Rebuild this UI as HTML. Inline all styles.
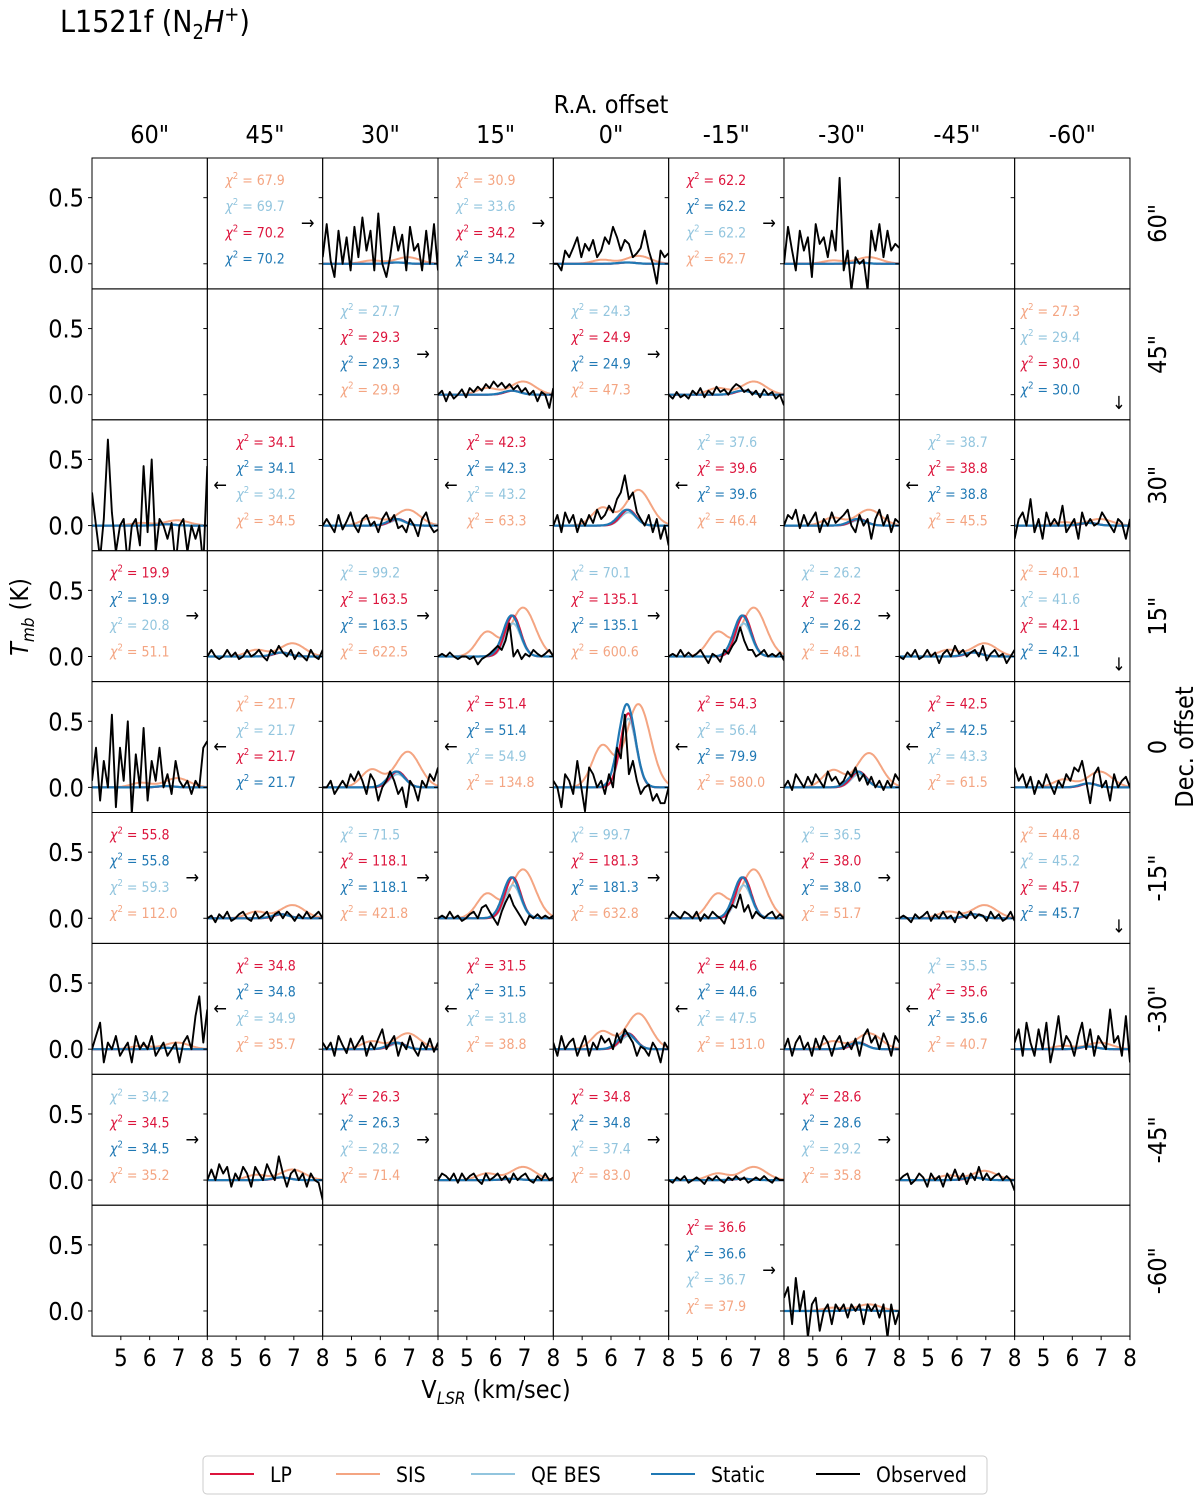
<!DOCTYPE html>
<html><head><meta charset="utf-8">
<style>
html,body{margin:0;padding:0;background:#fff;}
svg{display:block;font-family:"DejaVu Sans Condensed","DejaVu Sans","Liberation Sans",sans-serif;}
</style></head>
<body>
<svg id="fig" width="1200" height="1502" viewBox="0 0 1200 1502" xmlns="http://www.w3.org/2000/svg">
<text x="60" y="32" font-size="30">L1521f (N<tspan font-size="20" dy="7">2</tspan><tspan dy="-7" font-style="italic">H</tspan><tspan font-size="20" dy="-11">+</tspan><tspan dy="11">)</tspan></text>
<text x="611" y="113" font-size="25" text-anchor="middle">R.A. offset</text>
<text x="496" y="1398" font-size="25" text-anchor="middle">V<tspan font-size="17" dy="6" font-style="italic">LSR</tspan><tspan dy="-6"> (km/sec)</tspan></text>
<text transform="translate(28,617) rotate(-90)" font-size="25" text-anchor="middle"><tspan font-style="italic">T</tspan><tspan font-size="17" dy="6" font-style="italic">mb</tspan><tspan dy="-6"> (K)</tspan></text>
<text transform="translate(1193,747) rotate(-90)" font-size="25" text-anchor="middle">Dec. offset</text>
<g id="grid"></g>
<g id="legend">
  <rect x="203" y="1456" width="784" height="38" rx="4" fill="#fff" stroke="#ccc"/>
</g>
</svg>
<script>
// ---- data ----
const raLabels = ['60"','45"','30"','15"','0"','-15"','-30"','-45"','-60"'];
const decLabels = ['60"','45"','30"','15"','0','-15"','-30"','-45"','-60"'];
const yTicks = [0.0, 0.5];
const yTickLabels = ['0.0','0.5'];
const xTicks = [5,6,7,8];
const velocities = [4.0,4.14,4.28,4.41,4.55,4.69,4.83,4.97,5.1,5.24,5.38,5.52,5.66,5.79,5.93,6.07,6.21,6.34,6.48,6.62,6.76,6.9,7.03,7.17,7.31,7.45,7.59,7.72,7.86,8.0];

// chi2 text cells: [row, col, arrow, labels(model order), values]
const textCells = [
 [0,1,'r',['SIS','QE','LP','ST'],['67.9','69.7','70.2','70.2']],
 [0,3,'r',['SIS','QE','LP','ST'],['30.9','33.6','34.2','34.2']],
 [0,5,'r',['LP','ST','QE','SIS'],['62.2','62.2','62.2','62.7']],
 [1,2,'r',['QE','LP','ST','SIS'],['27.7','29.3','29.3','29.9']],
 [1,4,'r',['QE','LP','ST','SIS'],['24.3','24.9','24.9','47.3']],
 [1,8,'d',['SIS','QE','LP','ST'],['27.3','29.4','30.0','30.0']],
 [2,1,'l',['LP','ST','QE','SIS'],['34.1','34.1','34.2','34.5']],
 [2,3,'l',['LP','ST','QE','SIS'],['42.3','42.3','43.2','63.3']],
 [2,5,'l',['QE','LP','ST','SIS'],['37.6','39.6','39.6','46.4']],
 [2,7,'l',['QE','LP','ST','SIS'],['38.7','38.8','38.8','45.5']],
 [3,0,'r',['LP','ST','QE','SIS'],['19.9','19.9','20.8','51.1']],
 [3,2,'r',['QE','LP','ST','SIS'],['99.2','163.5','163.5','622.5']],
 [3,4,'r',['QE','LP','ST','SIS'],['70.1','135.1','135.1','600.6']],
 [3,6,'r',['QE','LP','ST','SIS'],['26.2','26.2','26.2','48.1']],
 [3,8,'d',['SIS','QE','LP','ST'],['40.1','41.6','42.1','42.1']],
 [4,1,'l',['SIS','QE','LP','ST'],['21.7','21.7','21.7','21.7']],
 [4,3,'l',['LP','ST','QE','SIS'],['51.4','51.4','54.9','134.8']],
 [4,5,'l',['LP','QE','ST','SIS'],['54.3','56.4','79.9','580.0']],
 [4,7,'l',['LP','ST','QE','SIS'],['42.5','42.5','43.3','61.5']],
 [5,0,'r',['LP','ST','QE','SIS'],['55.8','55.8','59.3','112.0']],
 [5,2,'r',['QE','LP','ST','SIS'],['71.5','118.1','118.1','421.8']],
 [5,4,'r',['QE','LP','ST','SIS'],['99.7','181.3','181.3','632.8']],
 [5,6,'r',['QE','LP','ST','SIS'],['36.5','38.0','38.0','51.7']],
 [5,8,'d',['SIS','QE','LP','ST'],['44.8','45.2','45.7','45.7']],
 [6,1,'l',['LP','ST','QE','SIS'],['34.8','34.8','34.9','35.7']],
 [6,3,'l',['LP','ST','QE','SIS'],['31.5','31.5','31.8','38.8']],
 [6,5,'l',['LP','ST','QE','SIS'],['44.6','44.6','47.5','131.0']],
 [6,7,'l',['QE','LP','ST','SIS'],['35.5','35.6','35.6','40.7']],
 [7,0,'r',['QE','LP','ST','SIS'],['34.2','34.5','34.5','35.2']],
 [7,2,'r',['LP','ST','QE','SIS'],['26.3','26.3','28.2','71.4']],
 [7,4,'r',['LP','ST','QE','SIS'],['34.8','34.8','37.4','83.0']],
 [7,6,'r',['LP','ST','QE','SIS'],['28.6','28.6','29.2','35.8']],
 [8,5,'r',['LP','ST','QE','SIS'],['36.6','36.6','36.7','37.9']]
];

// plot cells (row, col)
const plotRows = [0,0,0,1,1,2,2,2,2,2,3,3,3,3,4,4,4,4,4,5,5,5,5,6,6,6,6,6,7,7,7,7,8];
const plotCols = [2,4,6,3,5,0,2,4,6,8,1,3,5,7,0,2,4,6,8,1,3,5,7,0,2,4,6,8,1,3,5,7,6];
// model peak amplitudes (K)
const staticPeak = [0.01,0.01,0.01,0.03,0.03,0.01,0.05,0.12,0.05,0.02,0.03,0.31,0.31,0.03,0.01,0.12,0.63,0.12,0.03,0.03,0.31,0.31,0.03,0.01,0.05,0.12,0.05,0.02,0.02,0.01,0.01,0.02,0.01];
const qePeak     = [0.01,0.01,0.01,0.03,0.03,0.01,0.04,0.10,0.04,0.02,0.03,0.25,0.25,0.03,0.01,0.10,0.52,0.10,0.03,0.03,0.25,0.25,0.03,0.01,0.04,0.10,0.04,0.02,0.02,0.01,0.01,0.02,0.01];
const lpPeak     = [0.01,0.01,0.01,0.03,0.03,0.01,0.05,0.12,0.05,0.02,0.03,0.31,0.31,0.03,0.01,0.12,0.56,0.12,0.03,0.03,0.31,0.31,0.03,0.01,0.05,0.12,0.05,0.02,0.02,0.01,0.01,0.02,0.01];
const sisPeak    = [0.05,0.06,0.05,0.10,0.10,0.04,0.12,0.27,0.12,0.05,0.10,0.37,0.37,0.10,0.07,0.27,0.63,0.26,0.12,0.10,0.37,0.37,0.10,0.05,0.12,0.27,0.12,0.05,0.08,0.10,0.10,0.07,0.05];
// observed spectra
const observed = [
 [0.05,0.30,0.02,-0.10,0.25,0.00,0.20,-0.05,0.28,0.05,0.35,0.10,0.25,-0.05,0.38,0.00,-0.10,0.05,0.28,0.10,0.22,-0.05,0.28,0.10,0.15,-0.05,0.25,0.00,0.30,-0.05],
 [0.00,0.00,-0.05,0.10,0.05,0.12,0.20,0.05,0.15,0.10,0.18,0.05,0.10,0.20,0.15,0.28,0.20,0.10,0.18,0.15,0.05,0.08,0.12,0.25,0.10,0.00,-0.15,0.10,0.05,0.08],
 [0.00,0.28,0.10,-0.05,0.25,0.10,0.20,-0.10,0.30,0.15,0.20,0.05,0.25,0.10,0.65,-0.05,0.10,-0.20,0.05,0.00,0.03,-0.20,0.25,0.10,0.30,0.05,0.25,0.10,0.15,0.12],
 [0.00,0.03,-0.05,0.02,-0.03,0.00,0.04,-0.02,0.05,0.02,0.06,0.03,0.08,0.05,0.10,0.06,0.09,0.05,0.08,0.04,0.07,0.02,0.05,0.00,0.03,-0.05,0.02,0.00,-0.10,0.05],
 [0.00,-0.03,0.02,-0.02,0.00,-0.03,0.03,0.00,0.05,-0.02,0.03,0.00,0.06,0.02,0.04,0.00,0.05,0.08,0.06,0.02,0.04,0.00,0.03,-0.02,0.04,0.00,0.02,-0.03,0.00,-0.08],
 [0.25,0.00,-0.25,0.05,0.65,0.10,-0.20,0.00,0.05,-0.30,0.00,0.05,-0.15,0.45,-0.05,0.50,-0.20,0.05,0.00,-0.10,0.02,-0.30,0.00,0.05,-0.20,0.00,-0.10,0.00,-0.30,0.45],
 [0.00,0.05,0.00,-0.05,0.08,-0.03,0.03,0.10,0.00,-0.05,0.05,0.08,0.00,0.03,-0.05,0.05,0.10,0.03,0.08,-0.02,0.00,-0.05,0.05,0.00,-0.08,0.05,0.10,0.00,-0.05,-0.03],
 [0.00,0.08,-0.05,0.10,0.02,0.08,-0.05,0.05,0.00,0.08,0.02,0.12,0.05,0.08,0.15,0.10,0.20,0.25,0.38,0.20,0.25,0.10,0.05,0.00,0.08,-0.05,0.05,-0.10,0.00,-0.15],
 [0.00,0.08,0.05,0.12,-0.02,0.08,0.00,0.05,0.10,-0.05,0.05,0.00,0.10,0.02,0.05,0.08,0.12,0.00,-0.05,0.08,0.00,0.05,-0.10,0.05,0.12,0.00,0.08,-0.05,0.05,0.02],
 [-0.10,0.05,0.10,0.00,0.20,-0.05,0.05,-0.10,0.10,0.00,0.05,0.00,0.15,-0.05,0.00,0.05,-0.10,0.10,0.00,0.05,0.00,0.02,0.10,0.05,0.00,-0.05,0.05,0.02,-0.10,0.05],
 [0.00,0.05,0.00,-0.02,0.00,0.05,0.00,0.03,-0.02,0.00,0.05,0.00,0.02,0.05,0.00,-0.03,0.05,0.02,0.08,0.03,0.00,0.05,-0.02,0.03,0.00,-0.03,0.05,0.00,-0.02,0.05],
 [0.00,0.02,0.00,0.03,0.00,-0.02,0.00,0.00,-0.02,0.00,-0.06,-0.02,0.00,0.02,0.05,0.08,0.05,0.12,0.25,0.00,0.05,-0.02,0.02,0.00,0.05,0.02,0.00,0.02,0.05,0.00],
 [0.00,0.02,0.00,0.05,0.00,0.03,0.00,0.02,0.05,0.00,-0.05,0.02,0.00,-0.04,0.05,0.02,0.08,0.12,0.22,0.12,0.05,0.05,0.00,0.02,0.05,0.00,0.02,0.00,0.03,-0.03],
 [0.00,-0.02,0.03,0.00,0.05,-0.02,0.00,0.05,0.00,0.03,-0.05,0.02,0.05,0.00,0.08,0.02,0.05,0.00,0.03,0.05,0.00,0.08,-0.03,0.02,0.05,0.00,0.02,-0.05,0.00,0.05],
 [0.05,0.30,-0.10,0.20,0.00,0.55,-0.15,0.30,0.05,0.50,-0.20,0.25,0.00,0.45,-0.10,0.20,0.05,0.30,0.00,0.10,-0.05,0.20,0.05,0.00,0.05,-0.05,0.05,0.00,0.30,0.35],
 [0.00,0.00,0.05,-0.05,0.00,0.05,0.00,0.10,0.05,0.12,0.05,-0.05,0.10,0.05,-0.10,0.00,0.05,0.12,0.05,-0.05,0.00,-0.15,0.05,0.00,-0.10,0.05,0.00,0.10,0.05,0.15],
 [0.05,0.00,-0.15,0.10,0.05,-0.05,0.20,0.00,-0.18,0.15,0.10,0.00,0.05,-0.05,0.10,0.00,0.30,0.22,0.55,0.10,0.20,0.05,-0.05,0.00,0.02,-0.10,-0.05,-0.12,-0.12,0.00],
 [0.00,0.05,-0.02,0.10,0.05,0.00,0.08,0.02,0.10,0.05,0.00,0.12,0.05,0.08,0.02,0.05,0.12,0.08,0.15,0.05,0.10,0.02,0.08,0.00,0.05,-0.02,0.05,0.00,0.10,0.05],
 [0.15,0.05,0.10,0.00,0.08,-0.05,0.05,0.00,0.10,0.02,-0.05,0.05,0.00,0.10,0.05,0.15,0.12,0.20,0.05,-0.12,0.10,0.15,0.00,0.05,-0.10,0.10,0.00,0.05,0.08,0.00],
 [0.00,0.02,-0.03,0.03,0.00,0.05,-0.02,0.00,0.03,0.05,0.00,-0.02,0.05,0.00,0.02,0.05,-0.02,0.03,0.05,0.00,0.05,0.02,-0.02,0.03,0.00,0.05,0.00,0.02,0.05,0.00],
 [0.00,0.02,0.00,0.05,0.00,0.02,-0.02,0.00,0.03,0.05,0.00,0.08,0.10,0.05,0.00,-0.05,0.05,0.12,0.18,0.10,0.05,0.00,-0.05,0.02,0.00,0.03,0.00,0.02,0.00,0.02],
 [0.00,0.05,0.02,0.00,0.05,0.03,0.00,0.05,-0.02,0.03,0.00,0.05,0.02,0.00,-0.04,0.05,0.10,0.08,0.18,0.05,0.10,0.00,0.05,0.02,0.00,0.03,0.05,0.00,0.03,0.00],
 [0.00,0.02,0.00,-0.03,0.03,0.00,0.02,0.05,-0.02,0.03,0.00,0.05,0.00,0.02,-0.03,0.05,0.02,0.00,0.05,0.00,0.03,0.02,-0.02,0.05,0.00,0.03,-0.02,0.00,0.05,-0.02],
 [0.00,0.10,0.20,-0.10,0.05,0.00,0.10,-0.05,0.00,0.05,-0.10,0.10,0.00,0.05,0.00,0.10,-0.05,0.00,0.05,-0.05,0.00,0.05,-0.10,0.05,0.10,0.00,0.25,0.40,0.05,0.30],
 [0.05,0.00,0.05,-0.05,0.10,0.03,-0.03,0.08,0.00,0.05,0.10,-0.05,0.05,0.00,0.08,0.15,0.00,0.05,0.10,-0.05,0.05,0.00,0.10,0.00,-0.05,0.05,0.00,0.08,-0.02,0.05],
 [0.05,-0.05,0.10,0.00,0.05,0.08,-0.05,0.03,0.10,-0.05,0.05,0.00,0.10,0.05,0.08,0.00,0.12,0.05,0.15,0.10,0.05,-0.05,0.02,0.00,-0.05,0.05,0.00,-0.10,0.05,0.00],
 [0.00,0.08,-0.05,0.05,0.10,0.00,0.05,-0.05,0.08,0.00,0.10,0.05,-0.05,0.05,0.10,0.00,0.05,0.00,0.08,-0.05,0.10,0.15,0.05,0.10,0.00,0.12,0.05,-0.05,0.10,0.05],
 [0.05,0.15,-0.05,0.20,0.05,-0.05,0.15,0.00,0.20,-0.10,0.05,0.25,0.00,0.10,0.05,-0.05,0.10,0.20,0.00,0.15,-0.05,0.10,0.05,0.00,0.30,0.05,0.10,-0.05,0.25,-0.10],
 [0.00,0.08,0.00,0.12,0.05,0.10,-0.05,0.05,0.00,0.10,0.05,-0.05,0.10,0.05,0.00,0.12,0.05,0.00,0.18,0.05,-0.05,0.05,0.08,0.00,0.05,-0.05,0.05,0.00,-0.02,-0.15],
 [0.00,0.05,0.03,0.00,0.05,-0.02,0.05,0.00,0.03,0.05,0.00,-0.03,0.05,0.00,0.02,0.05,0.00,0.03,-0.02,0.05,0.00,0.03,0.05,0.00,-0.02,0.03,0.00,0.05,0.00,0.02],
 [0.00,-0.02,0.02,0.00,0.03,-0.02,0.00,0.02,0.00,-0.03,0.02,0.00,0.03,0.00,-0.02,0.02,0.00,0.03,0.00,0.02,-0.02,0.00,0.02,0.00,0.03,0.00,-0.02,0.02,0.00,0.00],
 [0.00,0.03,0.05,-0.03,0.00,0.05,0.02,-0.05,0.05,0.00,0.03,-0.05,0.05,0.00,0.08,0.00,0.05,-0.03,0.05,0.00,0.10,0.00,0.05,0.00,0.03,0.05,0.00,0.03,0.00,-0.08],
 [0.10,0.18,-0.10,0.25,0.00,0.15,-0.20,0.05,0.10,-0.15,0.00,0.05,-0.10,0.05,0.00,0.05,-0.05,0.05,0.00,0.05,-0.10,0.05,0.00,0.05,-0.05,0.05,-0.20,0.05,-0.10,0.00]
];

// ---- layout ----
const gx0 = 92, gy0 = 158, cw = 115.33, ch = 130.9;
const xmin = 4.0, xmax = 8.0, ymin = -0.19, ymax = 0.80;
const colors = {LP:'#dc143c', SIS:'#f4a582', QE:'#92c5de', ST:'#1f78b4', OBS:'#000'};
const NS = 'http://www.w3.org/2000/svg';
const grid = document.getElementById('grid');
function mk(tag, attrs, parent){const e=document.createElementNS(NS,tag);for(const k in attrs)e.setAttribute(k,attrs[k]);(parent||grid).appendChild(e);return e;}
function xS(c,v){return gx0+c*cw+(v-xmin)/(xmax-xmin)*cw;}
function yS(r,k){return gy0+r*ch+(ymax-k)/(ymax-ymin)*ch;}
function gauss(v,m,s){return Math.exp(-0.5*((v-m)/s)**2);}

const defs = mk('defs',{});
for(let r=0;r<9;r++){for(let c=0;c<9;c++){
  const cp = mk('clipPath',{id:'cp'+r+'_'+c},defs);
  mk('rect',{x:gx0+c*cw,y:gy0+r*ch,width:cw,height:ch},cp);
}}
const fineV=[];for(let i=0;i<=160;i++)fineV.push(xmin+i*(xmax-xmin)/160);
for(let p=0;p<plotRows.length;p++){
  const r=plotRows[p], c=plotCols[p];
  const g = mk('g',{'clip-path':'url(#cp'+r+'_'+c+')'});
  
  
  const sisShape=v=>(0.5*gauss(v,5.7,0.35)+gauss(v,6.95,0.42));
  const sisNorm=Math.max(...fineV.map(sisShape));
  const path=(f)=>fineV.map((v,i)=>(i?'L':'M')+xS(c,v).toFixed(1)+','+yS(r,f(v)).toFixed(1)).join('');
  const sis=mk('path',{d:path(v=>sisPeak[p]*sisShape(v)/sisNorm),fill:'none',stroke:colors.SIS,'stroke-width':2},g);
  
  
  const qe=mk('path',{d:path(v=>qePeak[p]*gauss(v,6.6,0.27)),fill:'none',stroke:colors.QE,'stroke-width':2},g);
  
  
  const lp=mk('path',{d:path(v=>lpPeak[p]*gauss(v,6.6,0.27)),fill:'none',stroke:colors.LP,'stroke-width':2},g);
  
  
  const st=mk('path',{d:path(v=>staticPeak[p]*gauss(v,6.55,0.29)),fill:'none',stroke:colors.ST,'stroke-width':2.2},g);
  
  
  const od=observed[p].map((k,i)=>(i?'L':'M')+xS(c,velocities[i]).toFixed(1)+','+yS(r,k).toFixed(1)).join('');
  const ob=mk('path',{d:od,fill:'none',stroke:'#000','stroke-width':1.9,'stroke-linejoin':'round'},g);
  
  
}
for(let r=0;r<9;r++){for(let c=0;c<9;c++){
  const x0=gx0+c*cw, y0=gy0+r*ch;
  const fr=mk('rect',{x:x0,y:y0,width:cw,height:ch,fill:'none',stroke:'#000','stroke-width':1});
  
  
  yTicks.forEach(t=>mk('line',{x1:x0-4,x2:x0,y1:yS(r,t),y2:yS(r,t),stroke:'#000','stroke-width':1}));
  if(r===8){xTicks.forEach(t=>{
    mk('line',{x1:xS(c,t),x2:xS(c,t),y1:y0+ch,y2:y0+ch+4,stroke:'#000','stroke-width':1});
    const tl=mk('text',{x:xS(c,t),y:y0+ch+30,'font-size':24,'text-anchor':'middle'});
    
    
    tl.textContent=t;
  });}
}}
for(let r=0;r<9;r++){yTicks.forEach((t,i)=>{
  const tl=mk('text',{x:84,y:yS(r,t)+9,'font-size':25,'text-anchor':'end'});
  
  
  tl.textContent=yTickLabels[i];
});}
raLabels.forEach((l,c)=>{
  const t=mk('text',{x:gx0+(c+0.5)*cw,y:143,'font-size':25,'text-anchor':'middle'});
  
  
  t.textContent=l;
});
decLabels.forEach((l,r)=>{
  const cy=gy0+(r+0.5)*ch;
  const t=mk('text',{transform:'translate(1166,'+cy.toFixed(1)+') rotate(-90)','font-size':25,'text-anchor':'middle'});
  
  
  t.textContent=l;
});
textCells.forEach(tc=>{
  const [r,c,arrow,labs,vals]=tc;
  const x0=gx0+c*cw, y0=gy0+r*ch;
  const off = arrow==='l'?29:(arrow==='d'?6:18);
  labs.forEach((lab,i)=>{
    const t=mk('text',{x:x0+off,y:y0+27+i*26.2,'font-size':14,fill:colors[lab]});
    
    
    t.innerHTML='<tspan font-style="italic">χ</tspan><tspan font-size="9.5" dy="-6">2</tspan><tspan dy="6"> = '+vals[i]+'</tspan>';
  });
  let ax,ay,ch2;
  if(arrow==='r'){ax=x0+cw-15;ay=y0+71;ch2='→';}
  else if(arrow==='l'){ax=x0+13;ay=y0+71;ch2='←';}
  else {ax=x0+cw-11;ay=y0+120;ch2='↓';}
  const a=mk('text',{x:ax,y:ay,'font-size':18,'text-anchor':'middle'});
  
  
  a.textContent=ch2;
});
const legendNames=['LP','SIS','QE BES','Static','Observed'];
const legendKeys=['LP','SIS','QE','ST','OBS'];
const legendX=[210,336,471,651,816];
const lg=document.getElementById('legend');
legendNames.forEach((n,i)=>{
  const l=mk('line',{x1:legendX[i],x2:legendX[i]+44,y1:1474,y2:1474,stroke:colors[legendKeys[i]],'stroke-width':2},lg);
  
  
  const t=mk('text',{x:legendX[i]+60,y:1482,'font-size':21},lg);
  
  
  t.textContent=n;
});
</script>
</body></html>
